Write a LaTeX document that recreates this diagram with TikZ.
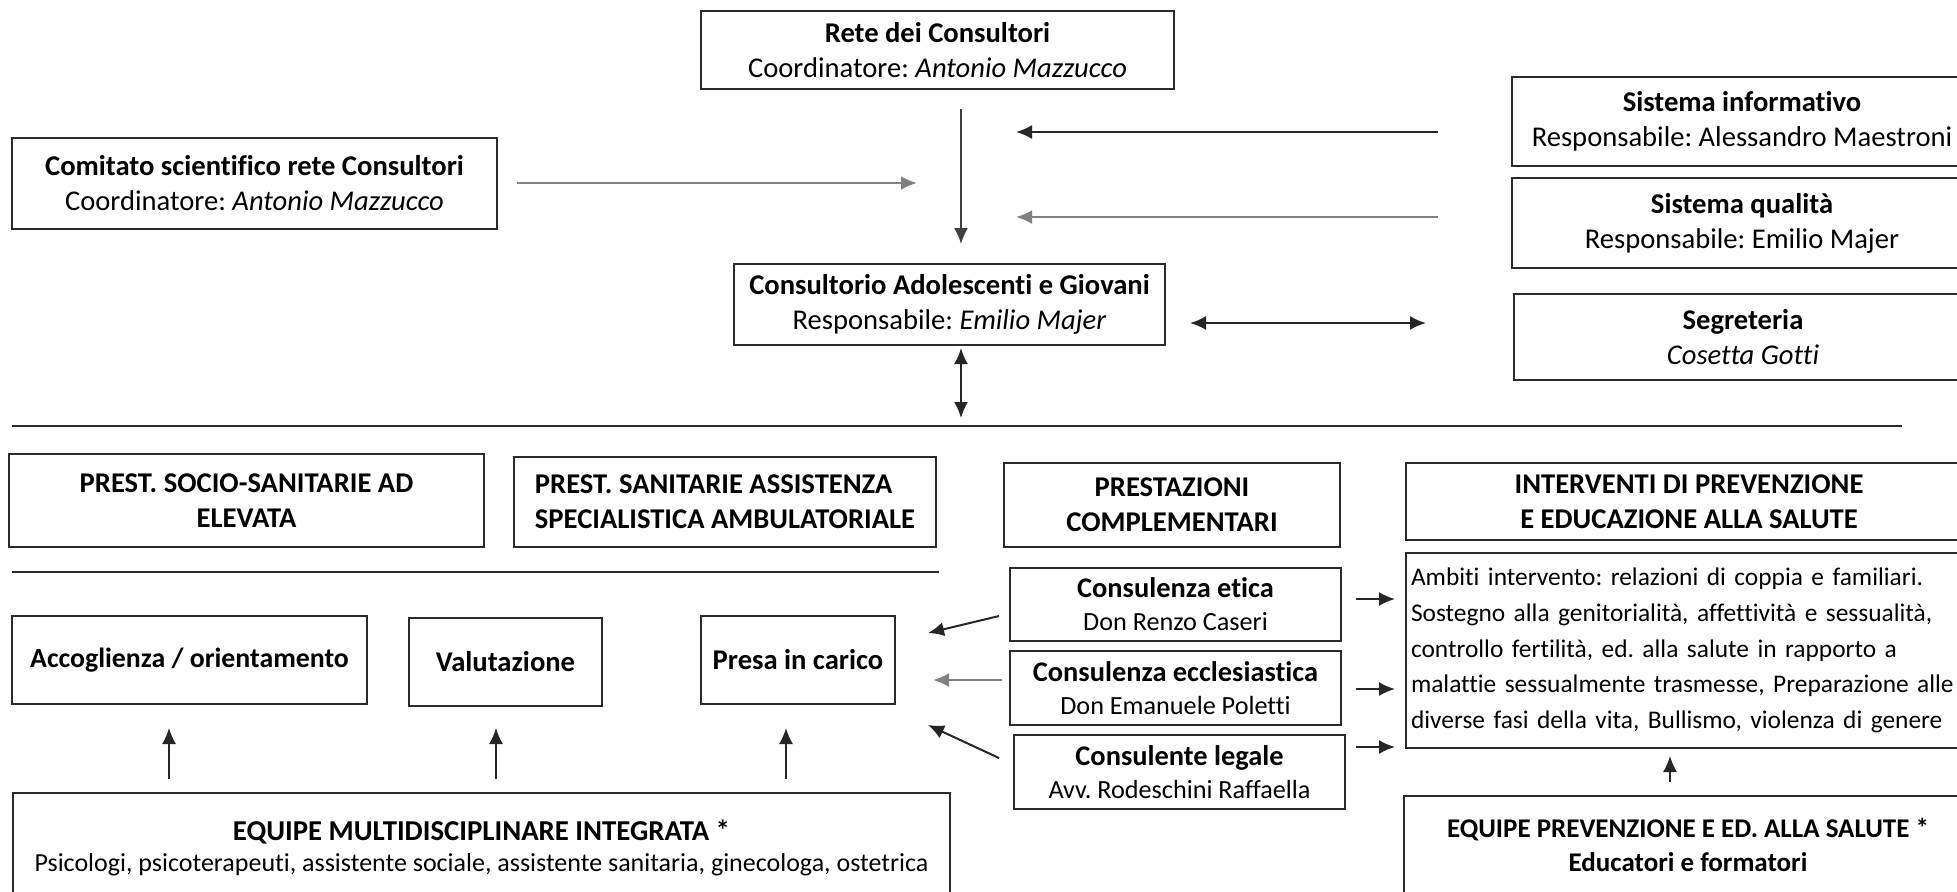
\documentclass[tikz,border=0pt]{standalone}
\usepackage{fontspec}
\setmainfont{Carlito}[Ligatures=NoCommon]
\usetikzlibrary{arrows.meta,calc}
\definecolor{frame}{HTML}{2B2B2B}
\definecolor{greyarrow}{HTML}{808080}
\newcommand\fsize[2]{\fontsize{#1}{#2}\selectfont}
\tikzset{
  box/.style={draw=frame, line width=1pt, inner sep=0pt, align=center,
    font=\fsize{14.3}{17.5}, text=black},
  consbox/.style={box, font=\fsize{14.2}{16.5}},
  arr/.style={draw=black!85, line width=1pt, -{Latex[length=8pt,width=7pt]}},
  garr/.style={arr, draw=greyarrow},
  darr/.style={draw=black!85, line width=1pt, {Latex[length=8pt,width=7pt]}-{Latex[length=8pt,width=7pt]}},
  rule/.style={draw=frame, line width=1pt},
}
\newcommand\bx[7][]{%
  \node[box,minimum width={(#5-#3)*0.5pt},minimum height={(#6-#4)*0.5pt},#1] (#2) at ({(#3+#5)/2},{(#4+#6)/2}) {#7};}
\begin{document}
\frenchspacing
\begin{tikzpicture}[x=0.5pt,y=-0.5pt]
\fill[white] (0,0) rectangle (1957,891);
\useasboundingbox (0,0) rectangle (1957,891);

% ---------- top part ----------
\bx{rete}{701}{11}{1174}{89}{\textbf{Rete dei Consultori}\\Coordinatore: \textit{Antonio Mazzucco}}
\bx{comitato}{12}{138}{497}{229}{\textbf{Comitato scientifico rete Consultori}\\Coordinatore: \textit{Antonio Mazzucco}}
\bx{cons}{734}{264}{1165}{345}{\textbf{Consultorio Adolescenti e Giovani}\\Responsabile: \textit{Emilio Majer}}
\bx{info}{1512}{77}{1972}{166}{\textbf{Sistema informativo}\\Responsabile: Alessandro Maestroni}
\bx{qual}{1512}{178}{1972}{268}{\textbf{Sistema qualità}\\Responsabile: Emilio Majer}
\bx{segr}{1514}{294}{1972}{380}{\textbf{Segreteria}\\\textit{Cosetta Gotti}}

\coordinate (vx) at (961,0);
\coordinate (cj) at (917,183);
\coordinate (ij) at (1016,132);
\coordinate (qj) at (1016,217);
\coordinate (sy) at (0,323);
\coordinate (rl) at (12,426);
\coordinate (rr) at (1902,426);

\draw[arr, draw=black!75, line width=0.8pt, shorten <=9.5pt, shorten >=9.5pt] (rete.south -| vx) -- (cons.north -| vx);
\draw[garr, line width=1.4pt, shorten <=9.5pt] (comitato.east |- cj) -- (cj);
\draw[arr, shorten <=36.5pt] (info.west |- ij) -- (ij);
\draw[garr, line width=1.2pt, shorten <=36.5pt] (qual.west |- qj) -- (qj);
\draw[darr, shorten <=12pt, shorten >=43.5pt] (cons.east |- sy) -- (segr.west |- sy);
\draw[darr, shorten <=1pt, shorten >=4pt] (cons.south -| vx) -- (rl -| vx);
\draw[rule] (rl) -- (rr);

% ---------- lower part ----------
\bx{psoc}{9}{454}{484}{547}{\textbf{PREST. SOCIO-SANITARIE AD}\\\textbf{ELEVATA}}
\bx[align=left]{psan}{514}{457}{936}{547}{\textbf{PREST. SANITARIE ASSISTENZA}\\\textbf{SPECIALISTICA AMBULATORIALE}}
\bx{pcom}{1004}{463}{1340}{547}{\textbf{PRESTAZIONI}\\\textbf{COMPLEMENTARI}}
\bx{interv}{1406}{463}{1972}{540}{\textbf{INTERVENTI DI PREVENZIONE}\\\textbf{E EDUCAZIONE ALLA SALUTE}}

\coordinate (ll) at (12,572);
\coordinate (lr) at (939,572);
\draw[rule] (ll) -- (lr);

\bx[font=\fsize{13.9}{17.5}]{acc}{12}{616}{367}{704}{\textbf{Accoglienza / orientamento}}
\bx{val}{409}{618}{602}{706}{\textbf{Valutazione}}
\bx{presa}{701}{616}{895}{704}{\textbf{Presa in carico}}

\bx[consbox]{etica}{1010}{568}{1341}{641}{\textbf{Consulenza etica}\\{\fsize{13.1}{16.5}Don Renzo Caseri}}
\bx[consbox]{eccl}{1010}{651}{1341}{725}{\textbf{Consulenza ecclesiastica}\\{\fsize{13.1}{16.5}Don Emanuele Poletti}}
\bx[consbox]{legale}{1014}{735}{1345}{809}{\textbf{Consulente legale}\\{\fsize{13.1}{16.5}Avv. Rodeschini Raffaella}}

\node[box, align=left, text width=278pt, inner xsep=2.5pt, minimum height={195*0.5pt},
  font=\fsize{12.7}{17.9}] (amb) at (1689,650.5)
  {Ambiti intervento: relazioni di coppia e familiari.\\
   Sostegno alla genitorialità, affettività e sessualità,\\
   controllo fertilità, ed. alla salute in rapporto a\\
   malattie sessualmente trasmesse, Preparazione alle\\
   diverse fasi della vita, Bullismo, violenza di genere};

\bx[font=\fsize{14.4}{15.5}]{emulti}{13}{793}{950}{902}{\textbf{EQUIPE MULTIDISCIPLINARE INTEGRATA *}\\{\fsize{13}{15.5}Psicologi, psicoterapeuti, assistente sociale, assistente sanitaria, ginecologa, ostetrica}}
\bx[font=\fsize{13.5}{17}]{eprev}{1404}{796}{1972}{894}{\textbf{EQUIPE PREVENZIONE E ED. ALLA SALUTE *}\\\textbf{Educatori e formatori}}

% up arrows from equipe multi
\coordinate (u1) at (169,0);
\coordinate (u2) at (496,0);
\coordinate (u3) at (786,0);
\draw[arr, line width=0.8pt, shorten <=6.5pt, shorten >=11.5pt] (emulti.north -| u1) -- (acc.south -| u1);
\draw[arr, line width=0.8pt, shorten <=6.5pt, shorten >=10.5pt] (emulti.north -| u2) -- (val.south -| u2);
\draw[arr, line width=0.8pt, shorten <=6.5pt, shorten >=11.5pt] (emulti.north -| u3) -- (presa.south -| u3);

% up arrow equipe prevenzione
\coordinate (u4) at (1670,0);
\draw[arr, line width=0.8pt, shorten <=6.5pt, shorten >=3.5pt] (eprev.north -| u4) -- (amb.south -| u4);

% consulenze -> ambiti
\coordinate (a1) at (0,599);
\coordinate (a2) at (0,689);
\coordinate (a3) at (0,747);
\draw[arr, shorten <=7pt, shorten >=5pt] (etica.east |- a1) -- (amb.west |- a1);
\draw[arr, shorten <=7pt, shorten >=5pt] (eccl.east |- a2) -- (amb.west |- a2);
\draw[arr, shorten <=5pt, shorten >=5pt] (legale.east |- a3) -- (amb.west |- a3);

% consulenze -> presa in carico
\coordinate (p1) at (928,633);
\coordinate (p2) at (933,680);
\coordinate (p3) at (928,725);
\draw[arr] (etica.west) ++(-10,11.5) -- (p1);
\draw[garr, line width=1.3pt] (eccl.west) ++(-7,-8) -- (p2);
\draw[arr] (legale.west) ++(-14,-14) -- (p3);
\end{tikzpicture}
\end{document}
